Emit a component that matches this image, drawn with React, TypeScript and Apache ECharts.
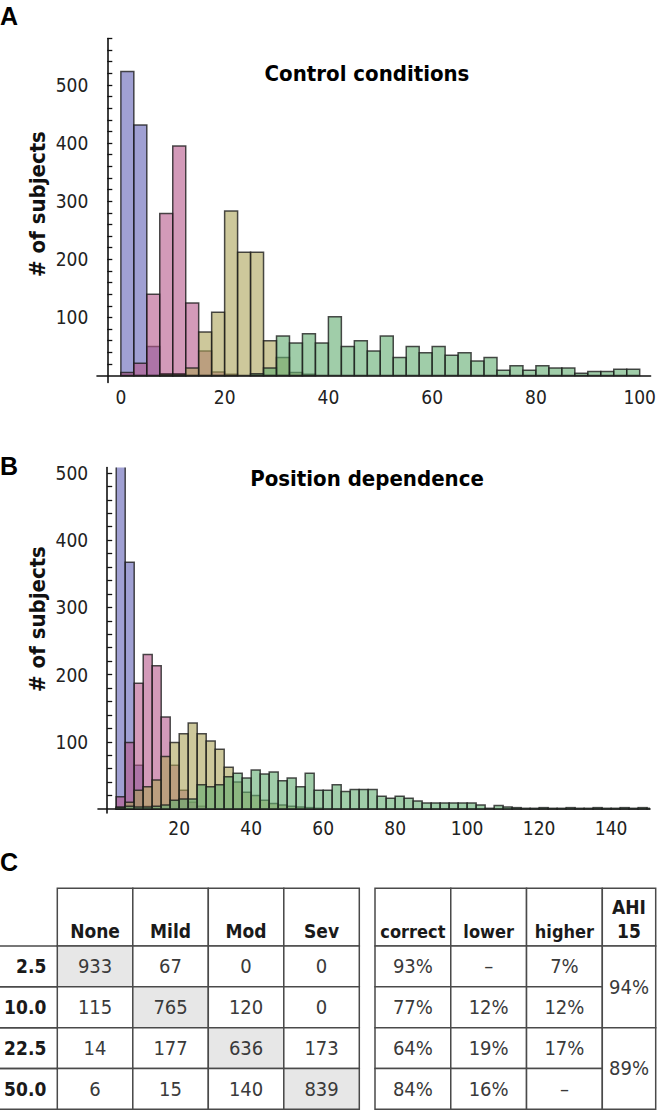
import React, { useEffect, useRef } from 'react';
import * as echarts from 'echarts';

const W = 659;
const H = 1111;
const FONT = "'Liberation Sans Narrow', 'DejaVu Sans Condensed', 'Liberation Sans', Arial, sans-serif";
const FONT_WIDE = "'Liberation Sans', Arial, sans-serif";

// ---------- histogram data ----------
const binWidth = 2.5;
const controlStart = 0;
const positionStart = 2.5;

const controlNone = [523, 431, 50, 3, 3, 0, 0, 0, 0, 0, 0, 0, 0, 0, 0, 0, 0, 0, 0, 0, 0, 0, 0, 0, 0, 0, 0, 0, 0, 0, 0, 0, 0, 0, 0, 0, 0, 0, 0, 0];
const controlMild = [5, 21, 140, 279, 395, 125, 42, 6, 2, 0, 0, 0, 0, 0, 0, 0, 0, 0, 0, 0, 0, 0, 0, 0, 0, 0, 0, 0, 0, 0, 0, 0, 0, 0, 0, 0, 0, 0, 0, 0];
const controlMod = [0, 0, 0, 2, 2, 13, 75, 109, 283, 212, 212, 60, 31, 5, 2, 0, 0, 0, 0, 0, 0, 0, 0, 0, 0, 0, 0, 0, 0, 0, 0, 0, 0, 0, 0, 0, 0, 0, 0, 0];
const controlSev = [0, 0, 0, 0, 0, 0, 0, 0, 0, 0, 3, 13, 68, 56, 72, 56, 101, 50, 60, 42, 68, 31, 50, 39, 50, 35, 39, 25, 31, 9, 17, 9, 17, 13, 13, 4, 7, 7, 11, 11];

const positionNone = [640, 367, 65, 4];
const positionMild = [18, 99, 187, 230, 213, 137, 65, 28, 10, 4];
const positionMod = [3, 10, 28, 33, 43, 78, 99, 112, 128, 112, 101, 89, 62, 40, 25, 20, 13, 8, 6, 4, 3, 2, 1];
const positionSev = [2, 4, 3, 3, 4, 6, 13, 15, 15, 36, 33, 36, 48, 53, 46, 58, 52, 55, 42, 46, 33, 53, 28, 28, 36, 26, 29, 29, 29, 19, 16, 19, 16, 12, 9, 9, 9, 9, 9, 9, 6, 1, 5, 3, 2, 1, 1, 2, 1, 1, 2, 1, 1, 2, 1, 1, 2, 1, 2, 1];

const controlXLabels = [0, 20, 40, 60, 80, 100];
const positionXLabels = [20, 40, 60, 80, 100, 120, 140];
const yLabels = [100, 200, 300, 400, 500];
const controlYTicks = [20, 40, 60, 80, 100, 120, 140, 160, 180, 200, 220, 240, 260, 280, 300, 320, 340, 360, 380, 400, 420, 440, 460, 480, 500, 520, 540, 560, 580];
const positionYTicks = [20, 40, 60, 80, 100, 120, 140, 160, 180, 200, 220, 240, 260, 280, 300, 320, 340, 360, 380, 400, 420, 440, 460, 480, 500];

// ---------- table data ----------
const severityCols = ['None', 'Mild', 'Mod', 'Sev'];
const thresholdRows = ['2.5', '10.0', '22.5', '50.0'];
const confusion = [
  [933, 67, 0, 0],
  [115, 765, 120, 0],
  [14, 177, 636, 173],
  [6, 15, 140, 839],
];
const accuracyCols = ['correct', 'lower', 'higher'];
const accuracy = [
  ['93%', '–', '7%'],
  ['77%', '12%', '12%'],
  ['64%', '19%', '17%'],
  ['84%', '16%', '–'],
];
const ahiHeader = 'AHI\n15';
const ahiGroups = ['94%', '89%'];

// ---------- styles ----------
const COLORS = {
  None: 'rgba(96, 96, 182, 0.6)',
  Mild: 'rgba(182, 86, 138, 0.6)',
  Mod: 'rgba(172, 164, 88, 0.6)',
  Sev: 'rgba(96, 172, 112, 0.6)',
};
const EDGE = 'rgba(25, 25, 25, 0.78)';
const BORDER = '#4a4a4a';
const SHADE = '#e7e7e7';

function histSeries(name: string, counts: number[], start: number, axisIndex: number, color: string) {
  const data = counts
    .map((c, i) => [start + i * binWidth, start + (i + 1) * binWidth, c])
    .filter((d) => d[2] > 0);
  return {
    type: 'custom',
    name,
    xAxisIndex: axisIndex,
    yAxisIndex: axisIndex,
    clip: true,
    encode: { x: [0, 1], y: 2 },
    data,
    renderItem: (params: any, api: any) => {
      const p0 = api.coord([api.value(0), 0]);
      const p1 = api.coord([api.value(1), api.value(2)]);
      return {
        type: 'rect',
        shape: { x: p0[0], y: p1[1], width: p1[0] - p0[0], height: p0[1] - p1[1] },
        style: { fill: color, stroke: EDGE, lineWidth: 1.5 },
      };
    },
  };
}

type Cell = { c: number; r: number; text: string; shade?: boolean };

function cellSeries(
  axisIndex: number,
  cells: Cell[],
  opt: { bold?: boolean; valign?: 'middle' | 'bottom'; align?: 'center' | 'right'; box?: boolean; size?: number }
) {
  const valign = opt.valign || 'middle';
  const align = opt.align || 'center';
  return {
    type: 'custom',
    xAxisIndex: axisIndex,
    yAxisIndex: axisIndex,
    encode: { x: 0, y: 1 },
    data: cells.map((c) => [c.c, c.r]),
    renderItem: (params: any, api: any) => {
      const cell = cells[params.dataIndex];
      const ctr = api.coord([api.value(0), api.value(1)]);
      const sz = api.size([1, 1]);
      const x0 = ctr[0] - sz[0] / 2;
      const y0 = ctr[1] - sz[1] / 2;
      const children: any[] = [];
      if (opt.box !== false) {
        children.push({
          type: 'rect',
          shape: { x: x0, y: y0, width: sz[0], height: sz[1] },
          style: { fill: cell.shade ? SHADE : '#ffffff', stroke: BORDER, lineWidth: 1.5 },
        });
      } else {
        children.push({ type: 'line', shape: { x1: x0, y1: y0, x2: x0 + sz[0], y2: y0 }, style: { stroke: BORDER, lineWidth: 1.5 } });
        children.push({ type: 'line', shape: { x1: x0, y1: y0 + sz[1], x2: x0 + sz[0], y2: y0 + sz[1] }, style: { stroke: BORDER, lineWidth: 1.5 } });
      }
      const tx = align === 'right' ? x0 + sz[0] - 11 : ctr[0];
      const ty = valign === 'bottom' ? y0 + sz[1] - 3 : ctr[1];
      children.push({
        type: 'text',
        style: {
          text: cell.text,
          x: tx,
          y: ty,
          align,
          verticalAlign: valign,
          fontFamily: FONT,
          fontSize: opt.size || 20,
          lineHeight: 24,
          fontWeight: opt.bold ? 'bold' : 'normal',
          fill: opt.bold ? '#1a1a1a' : '#3a3a3a',
        },
      });
      return { type: 'group', children };
    },
  };
}

function histAxes(gridIndex: number, xr: [number, number], yr: [number, number], xLabels: number[], yTicks: number[], yOffset: number) {
  const x = {
    type: 'value',
    gridIndex,
    min: xr[0],
    max: xr[1],
    axisLine: { onZero: true, lineStyle: { color: '#111', width: 1.6 } },
    axisTick: { show: false },
    splitLine: { show: false },
    axisLabel: { customValues: xLabels, fontFamily: FONT, fontSize: 19, color: '#222', margin: 5 },
  };
  const y = {
    type: 'value',
    gridIndex,
    min: yr[0],
    max: yr[1],
    offset: yOffset,
    axisLine: { show: true, onZero: false, lineStyle: { color: '#111', width: 1.6 } },
    axisTick: { show: true, inside: true, length: 5, customValues: yTicks, lineStyle: { color: '#111', width: 1.3 } },
    splitLine: { show: false },
    axisLabel: { customValues: yLabels, fontFamily: FONT, fontSize: 19, color: '#222', margin: 19 },
  };
  return { x, y };
}

function sideTitle(y: number) {
  return {
    type: 'text',
    x: 37,
    y,
    rotation: Math.PI / 2,
    style: { text: '# of subjects', fontFamily: FONT, fontSize: 22, fontWeight: 'bold', fill: '#111', align: 'center', verticalAlign: 'middle' },
  };
}

function letter(text: string, y: number) {
  return { type: 'text', x: 9, y, style: { text, fontFamily: FONT_WIDE, fontSize: 25, fontWeight: 'bold', fill: '#000', align: 'center', verticalAlign: 'middle' } };
}

function panelTitle(text: string, y: number) {
  return { type: 'text', x: 367, y, style: { text, fontFamily: FONT, fontSize: 22, fontWeight: 'bold', fill: '#000', align: 'center', verticalAlign: 'middle' } };
}

function buildOption() {
  const a = histAxes(0, [-4.6, 102.1], [-12, 580], controlXLabels, controlYTicks, -10.3);
  const b = histAxes(1, [-2.56, 150.8], [-6, 508], positionXLabels, positionYTicks, -9.2);

  const leftHeader: Cell[] = severityCols.map((t, i) => ({ c: i, r: 0, text: t }));
  const rowLabels: Cell[] = thresholdRows.map((t, i) => ({ c: 0, r: i, text: t }));
  const leftBody: Cell[] = [];
  confusion.forEach((row, r) => row.forEach((v, c) => leftBody.push({ c, r, text: String(v), shade: r === c })));
  const rightHeader: Cell[] = accuracyCols.map((t, i) => ({ c: i, r: 0, text: t }));
  const rightBody: Cell[] = [];
  accuracy.forEach((row, r) => row.forEach((v, c) => rightBody.push({ c, r, text: v })));
  const ahiHead: Cell[] = [{ c: 0, r: 0, text: ahiHeader }];
  const ahiBody: Cell[] = ahiGroups.map((t, i) => ({ c: 0, r: i, text: t }));

  const hidden = { show: false };
  const catX = (gridIndex: number, data: string[]) => ({ type: 'category', gridIndex, data, ...hidden });
  const catY = (gridIndex: number, data: string[]) => ({ type: 'category', gridIndex, data, inverse: true, ...hidden });

  return {
    animation: false,
    backgroundColor: '#ffffff',
    grid: [
      { left: 97, top: 38.5, width: 557, height: 344 },
      { left: 98, top: 467.6, width: 552, height: 345.4 },
      { left: 57.3, top: 888.3, width: 302, height: 57.7 },
      { left: 0, top: 946, width: 57.3, height: 163.3 },
      { left: 57.3, top: 946, width: 302, height: 163.3 },
      { left: 375, top: 888.3, width: 227.3, height: 57.7 },
      { left: 375, top: 946, width: 227.3, height: 163.3 },
      { left: 602.3, top: 888.3, width: 53.4, height: 57.7 },
      { left: 602.3, top: 946, width: 53.4, height: 163.3 },
    ],
    xAxis: [
      a.x,
      b.x,
      catX(2, severityCols),
      catX(3, ['label']),
      catX(4, severityCols),
      catX(5, accuracyCols),
      catX(6, accuracyCols),
      catX(7, ['AHI']),
      catX(8, ['AHI']),
    ],
    yAxis: [
      a.y,
      b.y,
      catY(2, ['header']),
      catY(3, thresholdRows),
      catY(4, thresholdRows),
      catY(5, ['header']),
      catY(6, thresholdRows),
      catY(7, ['header']),
      catY(8, ['low', 'high']),
    ],
    graphic: [
      letter('A', 16),
      letter('B', 466),
      letter('C', 862),
      panelTitle('Control conditions', 73),
      panelTitle('Position dependence', 478),
      sideTitle(204),
      sideTitle(619),
    ],
    series: [
      histSeries('None', controlNone, controlStart, 0, COLORS.None),
      histSeries('Mild', controlMild, controlStart, 0, COLORS.Mild),
      histSeries('Mod', controlMod, controlStart, 0, COLORS.Mod),
      histSeries('Sev', controlSev, controlStart, 0, COLORS.Sev),
      histSeries('None', positionNone, positionStart, 1, COLORS.None),
      histSeries('Mild', positionMild, positionStart, 1, COLORS.Mild),
      histSeries('Mod', positionMod, positionStart, 1, COLORS.Mod),
      histSeries('Sev', positionSev, positionStart, 1, COLORS.Sev),
      cellSeries(2, leftHeader, { bold: true, valign: 'bottom', size: 19 }),
      cellSeries(3, rowLabels, { bold: true, align: 'right', box: false, size: 19 }),
      cellSeries(4, leftBody, {}),
      cellSeries(5, rightHeader, { bold: true, valign: 'bottom', size: 18 }),
      cellSeries(6, rightBody, {}),
      cellSeries(7, ahiHead, { bold: true, valign: 'bottom', size: 19 }),
      cellSeries(8, ahiBody, {}),
    ],
  };
}

export default function App() {
  const ref = useRef<HTMLDivElement>(null);
  useEffect(() => {
    document.body.style.margin = '0';
    const chart = echarts.init(ref.current as HTMLDivElement, undefined, { renderer: 'svg', width: W, height: H });
    chart.setOption(buildOption() as any);
    return () => chart.dispose();
  }, []);
  return <div ref={ref} style={{ width: W, height: H, position: 'absolute', left: 0, top: 0, background: '#fff' }} />;
}
